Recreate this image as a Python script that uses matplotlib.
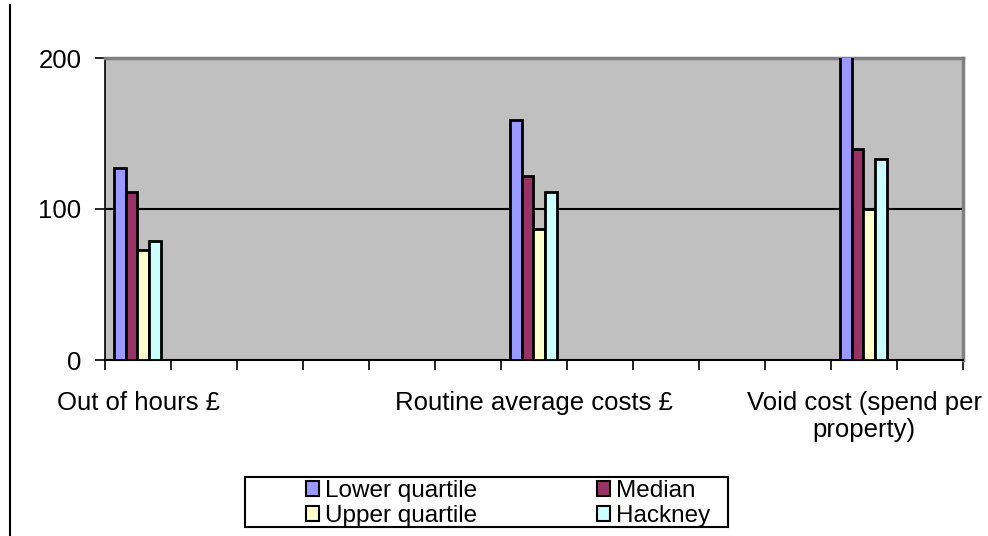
import numpy as np
import matplotlib
matplotlib.use("Agg")
import matplotlib.pyplot as plt
from matplotlib.patches import Rectangle
from matplotlib.lines import Line2D

plt.rcParams['font.family'] = ['Liberation Sans', 'DejaVu Sans']

nan = np.nan
categories = ["Out of hours £", "", "", "", "", "",
              "Routine average costs £", "", "", "", "",
              "Void cost (spend per\nproperty)", ""]
series = ["Lower quartile", "Median", "Upper quartile", "Hackney"]
lower_q = [127, nan, nan, nan, nan, nan, 159, nan, nan, nan, nan, 210, nan]
median = [111, nan, nan, nan, nan, nan, 122, nan, nan, nan, nan, 140, nan]
upper_q = [73, nan, nan, nan, nan, nan, 87, nan, nan, nan, nan, 100, nan]
hackney = [79, nan, nan, nan, nan, nan, 111, nan, nan, nan, nan, 133, nan]
colors = ["#9999FF", "#993366", "#FFFFCC", "#CCFFFF"]

W, H = 988, 536
fig = plt.figure(figsize=(W / 100, H / 100), dpi=100)
ax = fig.add_axes([105 / W, 1 - 360 / H, (963 - 105) / W, (360 - 58) / H])
ax.set_facecolor("#C0C0C0")

x = np.arange(len(categories)) + 0.5
bw = 0.178
data = [lower_q, median, upper_q, hackney]
bars = []
for k, (vals, c) in enumerate(zip(data, colors)):
    b = ax.bar(x + (k - 1.5) * bw - 0.01, vals, bw, color=c, edgecolor="black",
               linewidth=2.0, zorder=3, label=series[k])
    bars.append(b)

ax.set_xlim(0, len(categories))
ax.set_ylim(0, 200)
ax.set_yticks([0, 100, 200])
ax.tick_params(axis="y", labelsize=18.5, length=7, width=1.2, pad=10, direction="out")
ax.axhline(100, color="black", lw=1.5, zorder=2)

ax.set_xticks(np.arange(len(categories) + 1))
ax.set_xticklabels([])
ax.tick_params(axis="x", which="major", length=7, width=1.2, direction="out")
ax.set_xticks(x, minor=True)
ax.set_xticklabels(categories, minor=True, fontsize=18.5, linespacing=1.2)
ax.tick_params(axis="x", which="minor", length=0, pad=22)

for s in ["top", "right"]:
    ax.spines[s].set_color("#808080")
    ax.spines[s].set_linewidth(2.5)
ax.spines["left"].set_color("black")
ax.spines["left"].set_linewidth(1.2)
ax.spines["bottom"].set_color("black")
ax.spines["bottom"].set_linewidth(1.5)

# left border line of the picture
fig.add_artist(Line2D([10 / W, 10 / W], [0, 1 - 5 / H], color="black", lw=1.5))

# legend box
fig.add_artist(Rectangle((245 / W, 1 - 527 / H), (728 - 245) / W, 50 / H,
                         transform=fig.transFigure, fill=False, ec="black", lw=1.5))
handles = [bars[0], bars[2], bars[1], bars[3]]
labels = [series[0], series[2], series[1], series[3]]
leg = fig.legend(handles, labels, ncol=2, frameon=False, loc="upper left",
                 bbox_to_anchor=(306 / W, 1 - 480 / H), fontsize=17.5,
                 handlelength=0.55, handleheight=0.55, handletextpad=0.25,
                 columnspacing=4.9, labelspacing=0.12, borderpad=0, borderaxespad=0)
for h in leg.legend_handles:
    h.set_linewidth(1.5)

fig.savefig("out.png", dpi=100)
